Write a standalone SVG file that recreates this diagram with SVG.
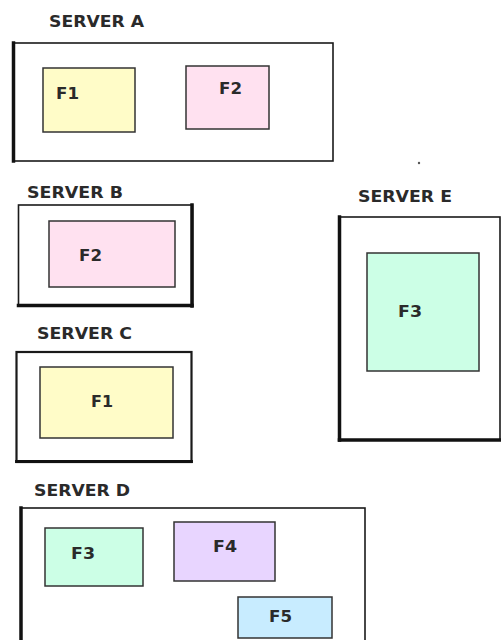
<svg xmlns="http://www.w3.org/2000/svg" width="501" height="640" viewBox="0 0 501 640">
  <style>
    .server { fill: #ffffff; stroke: #1a1a1a; stroke-width: 1.6; }
    .edge { stroke: #111111; stroke-width: 3.5; fill: none; stroke-linecap: square; }
    .file { stroke: #333333; stroke-width: 1.5; }
    .label { font-family: "DejaVu Sans", Verdana, sans-serif; font-size: 15px; font-weight: bold; fill: #2a2a2a; }
    .f1 { fill: #fffcc8; }
    .f2 { fill: #ffe1f0; }
    .f3 { fill: #ccffe6; }
    .f4 { fill: #e8d5ff; }
    .f5 { fill: #c8ecff; }
  </style>
  <rect width="501" height="640" fill="#ffffff"/>

  <!-- Server A -->
  <g id="server-a">
    <text class="label" x="49" y="27" textLength="95" lengthAdjust="spacingAndGlyphs">SERVER A</text>
    <rect class="server" x="13" y="43" width="320" height="118"/>
    <line class="edge" x1="13.5" y1="43" x2="13.5" y2="161"/>
    <g id="server-a-f1">
      <rect class="file f1" x="43" y="68" width="92" height="64"/>
      <text class="label" x="56" y="99" textLength="23" lengthAdjust="spacingAndGlyphs">F1</text>
    </g>
    <g id="server-a-f2">
      <rect class="file f2" x="186" y="66" width="83" height="63"/>
      <text class="label" x="219" y="94" textLength="23" lengthAdjust="spacingAndGlyphs">F2</text>
    </g>
  </g>

  <!-- Server B -->
  <g id="server-b">
    <text class="label" x="27" y="198" textLength="96" lengthAdjust="spacingAndGlyphs">SERVER B</text>
    <rect class="server" x="18.5" y="205" width="174" height="101"/>
    <line class="edge" x1="192" y1="205" x2="192" y2="306"/>
    <line class="edge" x1="18.5" y1="305.5" x2="192" y2="305.5"/>
    <g id="server-b-f2">
      <rect class="file f2" x="49" y="221" width="126" height="66"/>
      <text class="label" x="79" y="261" textLength="23" lengthAdjust="spacingAndGlyphs">F2</text>
    </g>
  </g>

  <!-- Server C -->
  <g id="server-c">
    <text class="label" x="37" y="339" textLength="95" lengthAdjust="spacingAndGlyphs">SERVER C</text>
    <rect class="server" x="16.5" y="352" width="175" height="110" style="stroke-width:2.2"/>
    <line class="edge" x1="16.5" y1="461.5" x2="191.5" y2="461.5" style="stroke-width:2.8"/>
    <g id="server-c-f1">
      <rect class="file f1" x="40" y="367" width="133" height="71"/>
      <text class="label" x="91" y="407" textLength="22" lengthAdjust="spacingAndGlyphs">F1</text>
    </g>
  </g>

  <!-- Server E -->
  <g id="server-e">
    <circle cx="419" cy="163" r="1.2" fill="#555555"/>
    <text class="label" x="358" y="202" textLength="94" lengthAdjust="spacingAndGlyphs">SERVER E</text>
    <rect class="server" x="339" y="217" width="161" height="223"/>
    <line class="edge" x1="339.5" y1="217" x2="339.5" y2="440"/>
    <line class="edge" x1="339.5" y1="440" x2="501" y2="440"/>
    <g id="server-e-f3">
      <rect class="file f3" x="367" y="253" width="112" height="118"/>
      <text class="label" x="398" y="317" textLength="24" lengthAdjust="spacingAndGlyphs">F3</text>
    </g>
  </g>

  <!-- Server D -->
  <g id="server-d">
    <text class="label" x="34" y="496" textLength="96" lengthAdjust="spacingAndGlyphs">SERVER D</text>
    <rect class="server" x="21" y="508" width="344" height="140"/>
    <line class="edge" x1="21" y1="508" x2="21" y2="645"/>
    <g id="server-d-f3">
      <rect class="file f3" x="45" y="528" width="98" height="58"/>
      <text class="label" x="71" y="559" textLength="24" lengthAdjust="spacingAndGlyphs">F3</text>
    </g>
    <g id="server-d-f4">
      <rect class="file f4" x="174" y="522" width="101" height="59"/>
      <text class="label" x="213" y="552" textLength="24" lengthAdjust="spacingAndGlyphs">F4</text>
    </g>
    <g id="server-d-f5">
      <rect class="file f5" x="238" y="597" width="94" height="41"/>
      <text class="label" x="269" y="622" textLength="23" lengthAdjust="spacingAndGlyphs">F5</text>
    </g>
  </g>
</svg>
